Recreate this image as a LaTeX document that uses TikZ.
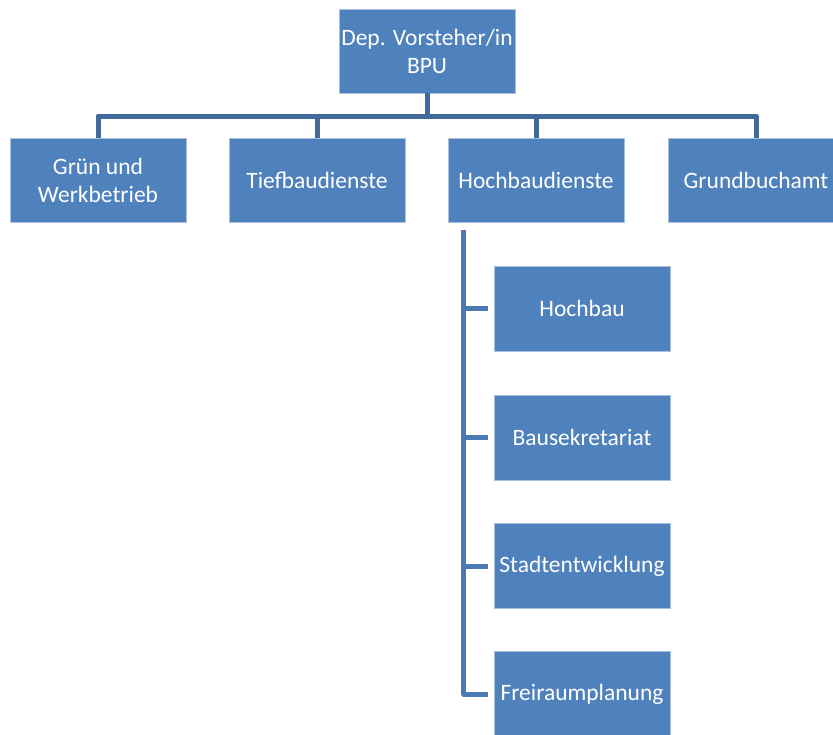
\documentclass[tikz,border=0pt]{standalone}
\usepackage{fontspec}
\setmainfont{Carlito}
\definecolor{boxblue}{HTML}{4F81BD}
\definecolor{boxedge}{HTML}{A9C0DE}
\definecolor{linedark}{HTML}{41699A}
\definecolor{linelight}{HTML}{4A79B4}
\tikzset{
  orgbox/.style={rectangle, fill=boxblue, draw=boxedge, line width=0.6pt, minimum width=176pt, minimum height=84pt, inner sep=0pt, text=white, align=center, font=\fontsize{23.5}{28}\selectfont},
  conndark/.style={draw=linedark, line width=5pt},
  connlight/.style={draw=linelight, line width=5pt}
}
\begin{document}
\begin{tikzpicture}[x=1pt,y=-1pt]
\useasboundingbox (0,0) rectangle (833,734);
\node[orgbox] (top) at (427,51) {Dep. Vorsteher/in\\BPU};
\node[orgbox] (gruen) at (98,180) {Grün und\\Werkbetrieb};
\node[orgbox] (tief) at (317,180) {Tiefbaudienste};
\node[orgbox] (hoch) at (536,180) {Hochbaudienste};
\node[orgbox] (grund) at (756,180) {Grundbuchamt};
\node[orgbox, minimum height=85pt] (c1) at (582,308.5) {Hochbau};
\node[orgbox, minimum height=85pt] (c2) at (582,437.5) {Bausekretariat};
\node[orgbox, minimum height=85pt] (c3) at (582,566) {Stadtentwicklung};
\node[orgbox, minimum height=85pt] (c4) at (582,694) {Freiraumplanung};
\coordinate (bus) at (0,116);
\draw[conndark] (top.south) -- (top.south |- bus);
\draw[conndark, line join=round] (gruen.north) -- (gruen.north |- bus) -- (grund.north |- bus) -- (grund.north);
\draw[conndark] (tief.north) -- (tief.north |- bus);
\draw[conndark] (hoch.north) -- (hoch.north |- bus);
\coordinate (vtop) at ([xshift=16pt, yshift=-8pt]hoch.south west);
\draw[connlight, line join=round] (vtop) |- ([xshift=-6pt]c4.west);
\draw[connlight] (vtop |- c1.west) -- ([xshift=-6pt]c1.west);
\draw[connlight] (vtop |- c2.west) -- ([xshift=-6pt]c2.west);
\draw[connlight] (vtop |- c3.west) -- ([xshift=-6pt]c3.west);
\end{tikzpicture}
\end{document}
